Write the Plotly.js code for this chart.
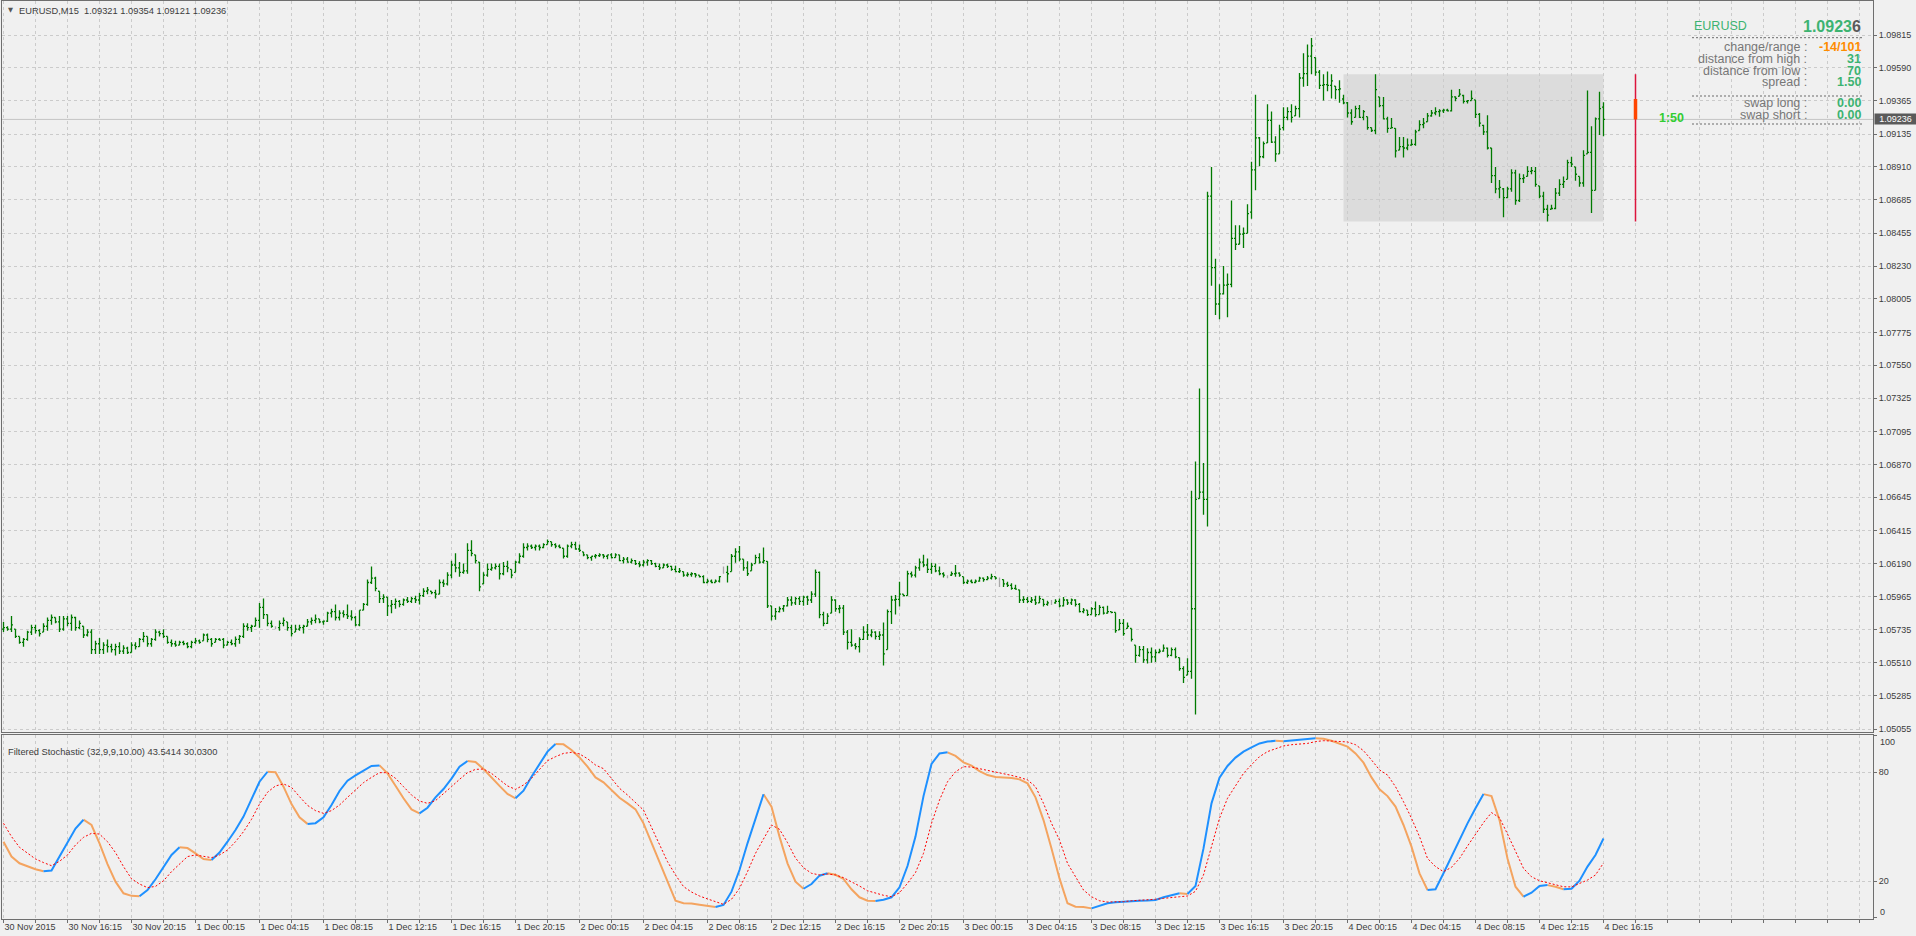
<!DOCTYPE html>
<html><head><meta charset="utf-8">
<script src="https://cdn.plot.ly/plotly-3.0.1.min.js"></script>
<style>html,body{margin:0;padding:0;background:#F0F0F0;overflow:hidden}#chart{width:1916px;height:936px}</style>
</head><body><div id="chart"></div>
<script>
// ---------------- DATA ----------------
const symbol = "EURUSD", timeframe = "M15";
const openP = [
1.0574,1.0575,1.0574,1.0574,1.0569,1.0565,1.0567,1.0572,1.0575,1.0573,
1.0572,1.0576,1.0580,1.0582,1.0579,1.0574,1.0581,1.0578,1.0582,1.0575,
1.0576,1.0570,1.0572,1.0560,1.0564,1.0560,1.0563,1.0562,1.0560,1.0562,
1.0559,1.0561,1.0558,1.0563,1.0562,1.0567,1.0569,1.0564,1.0567,1.0572,
1.0571,1.0569,1.0565,1.0564,1.0563,1.0565,1.0564,1.0562,1.0565,1.0566,
1.0566,1.0570,1.0567,1.0565,1.0567,1.0567,1.0563,1.0565,1.0564,1.0567,
1.0569,1.0576,1.0575,1.0576,1.0580,1.0589,1.0584,1.0578,1.0575,1.0575,
1.0578,1.0579,1.0575,1.0572,1.0574,1.0575,1.0576,1.0579,1.0580,1.0581,
1.0579,1.05795,1.0585,1.0586,1.0582,1.0585,1.0584,1.0583,1.0582,1.0577,
1.0587,1.0591,1.0606,1.0609,1.0600,1.0595,1.0596,1.0590,1.0591,1.0593,
1.0591,1.0594,1.0593,1.0595,1.0594,1.0597,1.0600,1.0600,1.0599,1.0598,
1.0606,1.0605,1.0611,1.0618,1.0616,1.0613,1.0614,1.0628,1.0625,1.0620,
1.0605,1.0611,1.0615,1.0616,1.0617,1.0612,1.0617,1.0615,1.0613,1.0620,
1.0624,1.0630,1.0631,1.0630,1.0631,1.0630,1.0632,1.0634,1.0632,1.0631,
1.06295,1.0624,1.0631,1.0632,1.0629,1.0627,1.0625,1.0623,1.0624,1.06245,
1.0625,1.0624,1.0625,1.0623,1.0625,1.0621,1.0622,1.0620,1.0621,1.0619,
1.0618,1.0620,1.0621,1.0619,1.0617,1.0616,1.0618,1.0617,1.0615,1.06135,
1.06135,1.0611,1.06115,1.0612,1.0611,1.0610,1.0606,1.0607,1.0606,1.0607,
1.0613,1.0613,1.06135,1.0624,1.0627,1.0622,1.0616,1.0614,1.0619,1.0623,
1.0620,1.06205,1.0590,1.0583,1.0586,1.0588,1.0590,1.0594,1.0592,1.0595,
1.0593,1.0596,1.0594,1.0598,1.0613,1.0584,1.0578,1.0585,1.0594,1.0588,
1.05885,1.0572,1.0565,1.0563,1.0562,1.0567,1.0572,1.0570,1.0572,1.0569,
1.0570,1.0560,1.0586,1.0594,1.05945,1.0598,1.0597,1.0612,1.0611,1.0616,
1.0620,1.0618,1.0615,1.0617,1.0614,1.0612,1.0610,1.0611,1.0612,1.06125,
1.0610,1.0606,1.0607,1.0606,1.0607,1.0609,1.0608,1.0609,1.0610,1.0608,
1.0608,1.0605,1.0604,1.0602,1.0601,1.0594,1.05945,1.0593,1.0594,1.0592,
1.05945,1.0591,1.0592,1.0592,1.0593,1.0590,1.0594,1.0592,1.0594,1.0591,
1.0586,1.0587,1.0584,1.0588,1.0584,1.0589,1.0585,1.0586,1.05855,1.05735,
1.0578,1.05745,1.05745,1.0563,1.0556,1.0560,1.0553,1.0558,1.0555,1.0558,
1.0559,1.0561,1.0556,1.0560,1.05545,1.0547,1.05425,1.0545,1.0588,1.06635,
1.0668,1.0663,1.0871,1.0822,1.0797,1.0804,1.0810,1.08105,1.0842,1.0838,
1.0845,1.08455,1.0860,1.0889,1.0911,1.0898,1.09075,1.0923,1.0908,1.0900,
1.0918,1.0925,1.0929,1.0926,1.0931,1.0952,1.0955,1.0967,1.0966,1.0956,
1.0947,1.09475,1.0947,1.09465,1.0944,1.09376,1.0935,1.0928,1.0925,1.0931,
1.0925,1.09255,1.0918,1.0916,1.0939,1.0933,1.0924,1.09175,1.09175,1.09025,
1.0905,1.0904,1.0906,1.09065,1.0916,1.0920,1.0922,1.0926,1.0928,1.0929,
1.09295,1.0930,1.09295,1.0939,1.09395,1.0940,1.0936,1.09365,1.0937,1.0927,
1.09195,1.0915,1.0904,1.0885,1.0876,1.0876,1.0870,1.0876,1.0887,1.0868,
1.0883,1.08845,1.0888,1.0888,1.0878,1.0871,1.0862,1.0862,1.08625,1.0873,
1.0879,1.08825,1.0894,1.0891,1.08845,1.0880,1.0900,1.0901,1.0875,1.0924,
1.09321];
const highP = [
1.0579,1.0576,1.0583,1.0574,1.0569,1.0568,1.0573,1.0577,1.0577,1.0574,
1.0578,1.0582,1.0584,1.0582,1.0583,1.0583,1.0583,1.0584,1.05825,1.0580,
1.0576,1.0574,1.0574,1.0566,1.0568,1.0565,1.0567,1.0564,1.0564,1.0565,
1.0563,1.0562,1.0565,1.0565,1.0568,1.0572,1.0569,1.0568,1.0574,1.0573,
1.0574,1.0569,1.0567,1.0566,1.0566,1.0566,1.0565,1.0566,1.0568,1.0567,
1.0571,1.0571,1.0568,1.0568,1.0568,1.0568,1.0566,1.0567,1.0569,1.0570,
1.0578,1.0578,1.0577,1.0582,1.0592,1.0595,1.0584,1.0580,1.0576,1.0580,
1.0582,1.0579,1.0577,1.0577,1.0577,1.0577,1.0581,1.0582,1.0584,1.0581,
1.0580,1.0586,1.0588,1.0591,1.0587,1.0587,1.0591,1.0587,1.0583,1.0587,
1.0592,1.0608,1.0617,1.0610,1.0600,1.0598,1.0596,1.0594,1.0595,1.0594,
1.0595,1.0596,1.0596,1.0597,1.0599,1.0602,1.0603,1.0600,1.0601,1.0608,
1.0608,1.0613,1.0621,1.0626,1.0620,1.0619,1.0633,1.0635,1.0625,1.0620,
1.0613,1.0619,1.0619,1.0619,1.0619,1.0620,1.0621,1.0615,1.0621,1.0626,
1.0633,1.0633,1.0632,1.0632,1.0632,1.0633,1.06355,1.0634,1.0633,1.0632,
1.06295,1.0632,1.0634,1.0634,1.0632,1.0627,1.0625,1.0624,1.06255,1.0626,
1.06255,1.0625,1.0626,1.0626,1.0625,1.06235,1.06235,1.06225,1.06215,1.06205,
1.06215,1.0622,1.06215,1.06195,1.0619,1.0619,1.0619,1.06175,1.06175,1.0616,
1.06135,1.0613,1.0613,1.06125,1.0611,1.0611,1.06085,1.0608,1.0608,1.06105,
1.0617,1.06175,1.06255,1.06295,1.0631,1.0622,1.06205,1.06195,1.0625,1.0626,
1.0630,1.06205,1.0590,1.05885,1.05895,1.05905,1.0596,1.05965,1.0596,1.05965,
1.0597,1.0597,1.0600,1.0615,1.06135,1.0586,1.0585,1.05965,1.05945,1.05905,
1.05905,1.05735,1.0574,1.05645,1.05685,1.0576,1.05775,1.0574,1.05725,1.05725,
1.05785,1.05875,1.0597,1.05975,1.06065,1.0598,1.0614,1.06135,1.06175,1.06225,
1.0625,1.06225,1.06195,1.0619,1.0617,1.0613,1.0611,1.06135,1.0618,1.0613,
1.0610,1.0608,1.0608,1.0608,1.0610,1.06095,1.06105,1.0612,1.0610,1.06095,
1.0608,1.06065,1.06055,1.06045,1.0601,1.05965,1.0596,1.0596,1.0597,1.0597,
1.05945,1.05935,1.0594,1.05945,1.0595,1.0596,1.05945,1.0595,1.05945,1.0592,
1.05885,1.0587,1.0589,1.0593,1.05905,1.05895,1.0590,1.0586,1.05855,1.0581,
1.0581,1.05785,1.05745,1.0563,1.05625,1.05625,1.0561,1.05615,1.0560,1.05605,
1.05635,1.05615,1.05615,1.05615,1.05545,1.05485,1.0554,1.0669,1.0689,1.0739,
1.0688,1.0874,1.0891,1.0828,1.08105,1.0823,1.0818,1.0868,1.0851,1.0851,
1.08495,1.08655,1.08945,1.09405,1.09115,1.09085,1.0934,1.0929,1.0912,1.0920,
1.0932,1.0932,1.0934,1.0933,1.09555,1.0969,1.0975,1.09795,1.0966,1.09575,
1.09545,1.09565,1.09545,1.09465,1.09505,1.09405,1.09355,1.09305,1.0933,1.09335,
1.0930,1.09255,1.0918,1.09546,1.0939,1.0939,1.09255,1.09245,1.09175,1.09115,
1.09115,1.09105,1.0910,1.09165,1.0923,1.09245,1.0928,1.0930,1.0932,1.09305,
1.0931,1.0931,1.0944,1.09395,1.09445,1.09405,1.0937,1.09435,1.0937,1.0928,
1.0920,1.09265,1.0904,1.0891,1.0882,1.08765,1.08775,1.08895,1.0889,1.08865,
1.0886,1.08915,1.0891,1.0891,1.0878,1.0874,1.0865,1.0865,1.08765,1.08825,
1.08845,1.0896,1.0898,1.0891,1.08845,1.09025,1.09435,1.0919,1.0925,1.09425,
1.09354];
const lowP = [
1.0572,1.0573,1.0572,1.0568,1.0564,1.0562,1.0566,1.0570,1.0571,1.0569,
1.0572,1.0573,1.0577,1.0578,1.0572,1.0573,1.0576,1.0573,1.0573,1.0574,
1.0568,1.0569,1.0557,1.0557,1.0557,1.0557,1.0558,1.0558,1.0556,1.0557,
1.0557,1.0557,1.0558,1.0560,1.0562,1.0565,1.0562,1.0562,1.0566,1.0569,
1.0568,1.0564,1.0562,1.0562,1.0563,1.0563,1.0561,1.0561,1.0564,1.0564,
1.0566,1.0565,1.0562,1.0565,1.0566,1.0561,1.0563,1.0563,1.0562,1.0564,
1.0568,1.0573,1.0572,1.0576,1.0575,1.0581,1.0576,1.0575,1.0574,1.0573,
1.0576,1.0573,1.0569,1.0572,1.0573,1.0571,1.0576,1.0577,1.0578,1.0578,
1.0577,1.0579,1.0582,1.0580,1.0580,1.0582,1.0581,1.0580,1.0576,1.0576,
1.0587,1.0590,1.0605,1.0600,1.0592,1.0592,1.0583,1.0585,1.0588,1.0589,
1.0590,1.0592,1.0592,1.0592,1.0591,1.0596,1.0598,1.0598,1.0595,1.0598,
1.0603,1.0604,1.0609,1.0613,1.0610,1.0612,1.0612,1.0624,1.0619,1.0600,
1.0605,1.0610,1.0614,1.0615,1.0608,1.0611,1.0613,1.0609,1.0613,1.0619,
1.0623,1.0628,1.0629,1.0628,1.0628,1.06295,1.0632,1.06305,1.06295,1.06295,
1.06225,1.0623,1.06295,1.06285,1.0627,1.0624,1.0622,1.0621,1.06225,1.06235,
1.06225,1.0622,1.06225,1.0623,1.06205,1.0619,1.06195,1.0619,1.0618,1.06165,
1.0617,1.06175,1.0618,1.06165,1.06145,1.0616,1.0616,1.0614,1.0613,1.06125,
1.0610,1.0610,1.0610,1.06095,1.06095,1.06055,1.06055,1.06055,1.0606,1.0606,
1.0612,1.0606,1.06135,1.06195,1.06205,1.0614,1.06105,1.0614,1.0619,1.0619,
1.0619,1.05885,1.0580,1.05805,1.05855,1.0586,1.05895,1.0590,1.05905,1.05905,
1.0590,1.05905,1.0592,1.0596,1.05815,1.0576,1.05775,1.0585,1.0586,1.0585,
1.0570,1.0560,1.0562,1.0560,1.0558,1.05665,1.05665,1.05685,1.0567,1.05665,
1.0549,1.0560,1.05775,1.0584,1.05895,1.05965,1.0597,1.06095,1.06095,1.0614,
1.06165,1.06125,1.0612,1.0613,1.0611,1.06095,1.0609,1.06105,1.0610,1.0610,
1.0605,1.0605,1.06055,1.06055,1.06065,1.06065,1.06075,1.0608,1.0608,1.0603,
1.0603,1.0603,1.0601,1.0601,1.0592,1.0592,1.0592,1.0592,1.05905,1.0592,
1.05895,1.0590,1.05905,1.05915,1.0589,1.05895,1.05905,1.05905,1.05895,1.05855,
1.0585,1.0583,1.0584,1.05825,1.0584,1.0584,1.05845,1.0585,1.05715,1.05735,
1.05695,1.05745,1.05655,1.0551,1.0555,1.0551,1.05505,1.0551,1.05515,1.05575,
1.05585,1.05545,1.05555,1.0554,1.05455,1.0537,1.05425,1.0540,1.05155,1.06635,
1.06525,1.06445,1.08095,1.07895,1.07865,1.08035,1.0788,1.08085,1.0834,1.0838,
1.08355,1.08455,1.08555,1.0875,1.08915,1.0897,1.09075,1.09075,1.08945,1.0900,
1.0916,1.0923,1.09215,1.0926,1.0925,1.0946,1.09465,1.09545,1.09535,1.09445,
1.09365,1.0943,1.0938,1.09375,1.0935,1.0934,1.0925,1.0920,1.0925,1.09245,
1.0923,1.09165,1.0915,1.09135,1.0932,1.09235,1.09145,1.09175,1.08975,1.09025,
1.08975,1.09025,1.09055,1.09055,1.0916,1.09175,1.0922,1.09255,1.09265,1.09255,
1.0928,1.0929,1.0929,1.0936,1.09395,1.09345,1.09345,1.09365,1.09245,1.09185,
1.0913,1.0903,1.0880,1.0873,1.08695,1.08565,1.08695,1.0874,1.0865,1.0867,
1.0880,1.08845,1.0886,1.08775,1.08695,1.08595,1.08536,1.0862,1.0862,1.0871,
1.08765,1.08825,1.0891,1.08815,1.08775,1.08775,1.0900,1.08595,1.0875,1.0913,
1.09121];
const closeP = [
1.0575,1.0574,1.0577,1.0569,1.0565,1.0567,1.0572,1.0575,1.0573,1.0571,
1.0576,1.0580,1.0582,1.0579,1.0574,1.0581,1.0578,1.0582,1.0575,1.0578,
1.0570,1.0572,1.0560,1.0564,1.0560,1.0563,1.0562,1.0560,1.0562,1.0559,
1.0561,1.0558,1.0563,1.0562,1.0567,1.0569,1.0564,1.0567,1.0572,1.0571,
1.0569,1.0565,1.0564,1.0563,1.0565,1.0564,1.0562,1.0565,1.0566,1.0565,
1.0570,1.0567,1.0564,1.0567,1.05665,1.0563,1.0565,1.0564,1.0567,1.0569,
1.0576,1.0575,1.0576,1.0580,1.0589,1.0584,1.0578,1.0576,1.0575,1.0578,
1.0580,1.0575,1.0571,1.0574,1.0575,1.0576,1.0579,1.0580,1.0581,1.0579,
1.05795,1.0585,1.0586,1.0582,1.0585,1.0584,1.0583,1.0582,1.0577,1.0587,
1.0591,1.0606,1.0609,1.0602,1.0595,1.0596,1.0590,1.0591,1.0593,1.0591,
1.0594,1.0593,1.0595,1.0594,1.0597,1.0600,1.0601,1.0599,1.0598,1.0606,
1.0605,1.0611,1.0618,1.0616,1.0613,1.0614,1.0628,1.0626,1.0621,1.0603,
1.0611,1.0615,1.0616,1.0617,1.0612,1.0617,1.0616,1.0611,1.0620,1.0624,
1.0630,1.0631,1.0630,1.0631,1.0630,1.0632,1.0634,1.0632,1.0631,1.0630,
1.0624,1.0631,1.0632,1.0629,1.0628,1.0625,1.0623,1.0624,1.06245,1.0625,
1.0624,1.0625,1.0623,1.0625,1.0621,1.0622,1.0620,1.0621,1.0619,1.0618,
1.0620,1.0621,1.0619,1.0617,1.0616,1.0618,1.0617,1.0615,1.06135,1.0614,
1.0611,1.06115,1.0612,1.0611,1.0610,1.0606,1.0607,1.0606,1.0607,1.0610,
1.0613,1.0612,1.0624,1.0627,1.0622,1.0616,1.0612,1.0618,1.0623,1.0620,
1.0621,1.0590,1.0583,1.0586,1.0588,1.0590,1.0594,1.0592,1.0595,1.0593,
1.0596,1.0594,1.0598,1.0613,1.0584,1.0578,1.0583,1.0594,1.0588,1.05885,
1.0572,1.0565,1.0563,1.0562,1.0567,1.0572,1.0570,1.0572,1.0569,1.0570,
1.0557,1.0586,1.0594,1.05945,1.0598,1.0597,1.0612,1.0611,1.0616,1.0620,
1.0618,1.0615,1.0617,1.0614,1.0612,1.0611,1.0610,1.0612,1.06125,1.0611,
1.0606,1.0607,1.0606,1.0607,1.0609,1.0608,1.0609,1.0610,1.0609,1.0608,
1.0605,1.0604,1.0602,1.06015,1.0594,1.05945,1.0593,1.0594,1.0592,1.0595,
1.0591,1.0592,1.0592,1.0593,1.0590,1.0594,1.0592,1.0594,1.0591,1.0586,
1.0587,1.0584,1.0588,1.0584,1.0589,1.0585,1.0586,1.05855,1.0573,1.0578,
1.0571,1.0576,1.0567,1.0556,1.0560,1.0553,1.0558,1.0555,1.0558,1.0559,
1.0561,1.0556,1.0560,1.0555,1.0547,1.0541,1.0545,1.0588,1.0663,1.0668,
1.0663,1.0871,1.0822,1.0797,1.0804,1.0810,1.08105,1.0842,1.0838,1.0845,
1.08455,1.0859,1.0889,1.0911,1.0898,1.0907,1.0923,1.0908,1.0900,1.0917,
1.0925,1.0929,1.0925,1.0931,1.0952,1.0955,1.0967,1.0974,1.0956,1.0947,
1.09475,1.0947,1.0950,1.0944,1.09445,1.0935,1.0928,1.0922,1.0931,1.0925,
1.0929,1.0918,1.0916,1.0944,1.0933,1.0924,1.09175,1.0918,1.0902,1.0905,
1.0904,1.0906,1.09065,1.0915,1.0920,1.0921,1.0926,1.0928,1.0929,1.09295,
1.0930,1.09295,1.0939,1.0938,1.0941,1.0936,1.09365,1.0938,1.0927,1.0921,
1.0915,1.0904,1.0885,1.0876,1.0877,1.0870,1.0876,1.0887,1.0868,1.0883,
1.08835,1.0888,1.08885,1.0879,1.0871,1.0862,1.0858,1.08625,1.0873,1.0879,
1.0881,1.0894,1.0893,1.0886,1.0880,1.0899,1.0901,1.0875,1.0924,1.0931,
1.09236];
const dayStart = 335;          // first bar of 4 Dec
const barsPerLabel = 16;
const xTickLabels = ["30 Nov 2015","30 Nov 16:15","30 Nov 20:15","1 Dec 00:15","1 Dec 04:15","1 Dec 08:15",
 "1 Dec 12:15","1 Dec 16:15","1 Dec 20:15","2 Dec 00:15","2 Dec 04:15","2 Dec 08:15","2 Dec 12:15",
 "2 Dec 16:15","2 Dec 20:15","3 Dec 00:15","3 Dec 04:15","3 Dec 08:15","3 Dec 12:15","3 Dec 16:15",
 "3 Dec 20:15","4 Dec 00:15","4 Dec 04:15","4 Dec 08:15","4 Dec 12:15","4 Dec 16:15"];
const priceTickLabels = ["1.09815","1.09590","1.09365","1.09135","1.08910","1.08685","1.08455","1.08230",
 "1.08005","1.07775","1.07550","1.07325","1.07095","1.06870","1.06645","1.06415","1.06190","1.05965",
 "1.05735","1.05510","1.05285","1.05055"];
const stochStep = 2;
const stochMain = [
41.8,33.6,29.9,28.1,26.6,25.5,25.9,33.6,41.3,49.0,
53.9,51.0,40.9,29.5,19.8,13.4,12.0,11.8,15.2,21.1,
27.7,34.5,38.7,38.3,35.4,32.3,31.7,35.8,41.8,48.2,
55.6,65.7,74.8,80.3,80.0,72.1,62.5,55.2,51.6,52.0,
55.2,62.0,69.7,75.4,78.3,80.7,83.5,83.8,79.4,72.6,
65.7,59.6,57.4,60.5,66.2,70.8,76.5,83.1,86.2,85.7,
81.8,76.9,72.5,68.1,65.7,69.9,77.6,84.6,91.4,95.6,
95.4,92.3,88.2,83.1,77.2,74.5,70.3,66.0,62.9,59.6,
51.9,41.3,30.3,19.8,9.3,7.9,7.8,7.1,6.4,5.9,
7.0,14.3,26.2,40.9,54.7,67.9,61.1,44.6,29.9,19.8,
15.9,18.5,23.1,24.4,23.6,21.3,15.6,11.2,9.3,9.2,
9.9,11.2,16.7,28.4,44.6,66.9,84.6,90.4,91.0,89.0,
85.5,83.7,80.7,78.5,77.4,77.2,76.9,76.1,73.9,66.2,
53.7,38.1,21.6,7.9,6.0,5.9,5.1,6.4,7.9,8.4,
8.8,9.2,9.3,9.4,9.7,11.2,12.5,13.4,13.0,17.4,
38.1,62.9,77.0,83.5,88.1,91.4,93.7,95.9,96.9,97.3,
97.1,97.6,98.0,98.2,98.7,98.5,97.4,95.9,94.1,90.4,
85.3,77.2,70.6,66.9,61.1,51.0,39.1,24.4,15.2,15.6,
24.4,33.6,43.3,51.9,60.2,68.0,66.9,53.7,32.6,17.0,
11.5,13.7,17.4,17.9,17.0,15.6,15.9,20.3,28.1,34.5,
43.5414];
const stochSignal = [
51.9,44.6,38.7,35.4,32.3,30.3,28.6,31.0,34.5,40.0,
44.2,46.4,46.0,41.8,35.8,28.1,21.4,18.5,16.5,17.2,
20.3,25.3,29.5,33.6,34.5,33.6,33.0,34.5,37.2,41.8,
47.3,54.1,62.5,69.0,72.5,73.6,71.7,66.6,61.8,58.9,
57.4,58.9,62.0,66.2,70.3,74.3,77.2,79.8,79.8,76.7,
72.1,67.5,64.2,62.9,64.4,68.1,72.1,76.1,79.8,81.6,
81.8,79.4,75.8,72.5,70.6,73.0,76.7,81.3,86.4,88.6,
90.4,91.0,90.1,87.5,84.0,82.0,76.7,71.2,67.5,63.3,
59.2,49.7,40.0,30.8,23.5,17.1,14.1,11.9,10.3,8.6,
7.3,10.1,16.1,25.3,35.4,43.3,51.0,48.6,41.3,32.8,
27.5,24.4,23.5,24.0,23.5,22.0,19.8,17.4,14.8,13.4,
12.3,11.5,13.7,18.9,24.8,35.4,51.9,64.7,74.8,80.3,
83.1,82.9,82.0,81.3,80.3,79.4,78.3,77.2,75.8,72.1,
62.9,51.9,42.7,29.9,22.2,15.2,11.5,9.3,8.6,8.6,
8.8,9.3,9.5,9.7,10.1,10.6,11.2,11.5,11.9,14.5,
23.5,39.1,54.7,65.7,72.8,79.4,84.2,88.6,91.4,93.0,
94.5,95.2,95.6,95.9,96.9,97.4,97.2,97.1,96.7,95.2,
91.9,86.8,81.3,78.5,72.1,63.8,54.7,44.6,32.6,28.1,
25.3,27.7,32.6,39.4,45.7,52.3,57.8,55.0,46.0,36.3,
27.1,22.5,20.3,19.2,17.9,17.0,16.9,18.9,20.7,23.5,
30.03];
const spreadText = "1.50", swapLong = "0.00", swapShort = "0.00", timerText = "1:50";

// ---------------- GEOMETRY / STYLE ----------------
const W = 1916, H = 936;
const px = x => x / W, py = y => (H - y) / H;
const PL = 2, PR = 1873, PT = 1, PB = 732, ST = 735, SB = 918.5;
const BARPX = 4, BAR0PX = 3.5;
const xRange = [(PL - BAR0PX) / BARPX, (PR - BAR0PX) / BARPX];
const kP = (1.09815 - 1.05055) / (729.05 - 35);
const yRange = [1.09815 - (PB - 35) * kP, 1.09815 + (35 - PT) * kP];
const kS = 60 / (881.3 - 772.3);
const y2Range = [20 - (SB - 881.3) * kS, 80 + (772.3 - ST) * kS];
const FONT = "'Liberation Sans', Arial, sans-serif";
const GRID = '#CBCBCB', AXIS = '#6E6E6E', TXT = '#3C3C3C', GREEN = '#3CB371';

// ---------------- DERIVED ----------------
const n = closeP.length, last = n - 1;
const idx = closeP.map((_, i) => i);
const isDoji = i => openP[i] === closeP[i];
const normI = idx.filter(i => !isDoji(i)), dojiI = idx.filter(isDoji);
const pick = (arr, ids) => ids.map(i => arr[i]);
const dayOpen = openP[dayStart];
const dayHigh = Math.max(...highP.slice(dayStart));
const dayLow = Math.min(...lowP.slice(dayStart));
const lastC = closeP[last];
const pip = v => Math.round(v / 0.0001);

let minGap = Infinity;
for (let k = 1; k < dojiI.length; k++) minGap = Math.min(minGap, dojiI[k] - dojiI[k - 1]);
if (!isFinite(minGap)) minGap = 1;

const BARLW = 1.3;
const traces = [];
traces.push({type:'ohlc', x: normI, open: pick(openP, normI), high: pick(highP, normI), low: pick(lowP, normI), close: pick(closeP, normI),
  increasing:{line:{color:'#007A00', width:BARLW}}, decreasing:{line:{color:'#007A00', width:BARLW}}, tickwidth:0.38,
  xaxis:'x', yaxis:'y', hoverinfo:'skip', showlegend:false});
if (dojiI.length) traces.push({type:'ohlc', x: dojiI, open: pick(openP, dojiI), high: pick(highP, dojiI), low: pick(lowP, dojiI), close: pick(closeP, dojiI),
  increasing:{line:{color:'#A8A8A8', width:BARLW}}, decreasing:{line:{color:'#A8A8A8', width:BARLW}}, tickwidth: Math.min(0.5, 0.38 / minGap),
  xaxis:'x', yaxis:'y', hoverinfo:'skip', showlegend:false});

// stochastic main line, coloured by direction
const sx = stochMain.map((_, k) => k * stochStep);
function segs(up) {
  const xs = [], ys = [];
  for (let k = 1; k < stochMain.length; k++) {
    const rising = stochMain[k] > stochMain[k - 1];
    if (rising !== up) continue;
    if (xs.length && xs[xs.length - 1] === sx[k - 1]) { xs.push(sx[k]); ys.push(stochMain[k]); }
    else { if (xs.length) { xs.push(null); ys.push(null); } xs.push(sx[k - 1], sx[k]); ys.push(stochMain[k - 1], stochMain[k]); }
  }
  return {xs, ys};
}
const dn = segs(false), upS = segs(true);
traces.push({type:'scatter', mode:'lines', x: dn.xs, y: dn.ys, line:{color:'#F4A460', width:2}, connectgaps:false, xaxis:'x2', yaxis:'y2', hoverinfo:'skip', showlegend:false});
traces.push({type:'scatter', mode:'lines', x: upS.xs, y: upS.ys, line:{color:'#1E90FF', width:2}, connectgaps:false, xaxis:'x2', yaxis:'y2', hoverinfo:'skip', showlegend:false});
traces.push({type:'scatter', mode:'lines', x: sx, y: stochSignal, line:{color:'#FF0000', width:1, dash:'2px,2px'}, xaxis:'x2', yaxis:'y2', hoverinfo:'skip', showlegend:false});

// ---------------- AXES ----------------
const xTickVals = [], xTickText = [];
for (let v = 0; v <= xRange[1]; v += barsPerLabel / 2) {
  xTickVals.push(v);
  const li = v / barsPerLabel;
  xTickText.push(Number.isInteger(li) && li < xTickLabels.length ? xTickLabels[li] : '');
}
const gridCommon = {showgrid:true, gridcolor:GRID, griddash:'3px,3px', gridwidth:1, zeroline:false,
  showline:true, mirror:true, linecolor:AXIS, linewidth:1, fixedrange:true, automargin:false};

const layout = {
  width: W, height: H, margin:{l:0, r:0, t:0, b:0}, paper_bgcolor:'#F0F0F0', plot_bgcolor:'#F0F0F0',
  showlegend:false, hovermode:false,
  xaxis: Object.assign({}, gridCommon, {domain:[px(PL), px(PR)], range:xRange, anchor:'y', tickmode:'array', tickvals:xTickVals,
    showticklabels:false, ticks:'', rangeslider:{visible:false}}),
  yaxis: Object.assign({}, gridCommon, {domain:[py(PB), py(PT)], range:yRange, anchor:'x', side:'right', tickmode:'array',
    tickvals: priceTickLabels.map(Number), ticktext: priceTickLabels, ticks:'outside', ticklen:3, tickcolor:AXIS,
    tickfont:{family:FONT, size:9, color:TXT}}),
  xaxis2: Object.assign({}, gridCommon, {domain:[px(PL), px(PR)], range:xRange, anchor:'y2', tickmode:'array', tickvals:xTickVals,
    ticktext:xTickText, ticks:'outside', ticklen:3, tickcolor:AXIS, ticklabelposition:'outside right',
    tickfont:{family:FONT, size:9, color:TXT}}),
  yaxis2: Object.assign({}, gridCommon, {domain:[py(SB), py(ST)], range:y2Range, anchor:'x2', side:'right', tickmode:'array',
    tickvals:[0, 20, 80, 100], ticktext:['', '20', '80', ''], ticks:'outside', ticklen:3, tickcolor:AXIS,
    tickfont:{family:FONT, size:9, color:TXT}}),
  shapes: [], annotations: []
};

// day range box, bid line, daily candle
layout.shapes.push({type:'rect', xref:'x', yref:'y', x0: dayStart, x1: last, y0: dayLow, y1: dayHigh, fillcolor:'#DCDCDC', line:{width:0}, layer:'below'});
layout.shapes.push({type:'line', xref:'paper', yref:'y', x0: px(PL), x1: px(PR), y0: lastC, y1: lastC, line:{color:'#C4C4C4', width:1}, layer:'between'});
const candX = last + 8;
layout.shapes.push({type:'line', xref:'x', yref:'y', x0: candX, x1: candX, y0: dayLow, y1: dayHigh, line:{color:'#DC143C', width:1.5}});
layout.shapes.push({type:'line', xref:'x', yref:'y', x0: candX, x1: candX, y0: dayOpen, y1: lastC, line:{color:'#FF4500', width:3.5}});
// info panel separators
[37.7, 96, 124].forEach(y => layout.shapes.push({type:'line', xref:'paper', yref:'paper', x0: px(1692), x1: px(1863), y0: py(y), y1: py(y),
  line:{color:'#6A6A6A', width:1, dash:'2px,2px'}}));

// ---------------- TEXT ----------------
function T(text, x, y, o) {
  return Object.assign({text, xref:'paper', yref:'paper', x: px(x), y: py(y), showarrow:false, xanchor:'left', yanchor:'middle',
    font:{family:FONT, size:9.3, color:TXT}}, o || {});
}
const A = layout.annotations;
A.push(T('\u25BC', 6, 10.5, {font:{family:"'DejaVu Sans', sans-serif", size:6.5, color:'#555'}}));
A.push(T(`${symbol},${timeframe}\u00a0\u00a0${openP[last].toFixed(5)} ${highP[last].toFixed(5)} ${lowP[last].toFixed(5)} ${lastC.toFixed(5)}`, 17, 11));
A.push(T(`Filtered Stochastic (32,9,9,10.00) ${stochMain[stochMain.length-1].toFixed(4)} ${stochSignal[stochSignal.length-1].toFixed(4)}`, 6, 751.5));
A.push(T('100', 1878, 741.5, {font:{family:FONT, size:9, color:TXT}}));
A.push(T('0', 1878, 911.5, {font:{family:FONT, size:9, color:TXT}}));
// current price tag
A.push({text: lastC.toFixed(5), xref:'paper', yref:'y', x: px(1874), y: lastC, xanchor:'left', yanchor:'middle', showarrow:false,
  bgcolor:'#5A5A5A', borderpad:0, width:41, height:10, align:'center', font:{family:FONT, size:9, color:'#FFFFFF'}});
// info panel
const ps = lastC.toFixed(5);
A.push(T(symbol, 1692, 26, {font:{family:FONT, size:12.5, color:GREEN}}));
A.push(T(`<b>${ps.slice(0, -1)}<span style="color:#5A5A5A">${ps.slice(-1)}</span></b>`, 1862.5, 26.5, {xanchor:'right', font:{family:FONT, size:16, color:GREEN}}));
const rows = [
  ['change/range', `${pip(lastC - dayOpen)}/${pip(dayHigh - dayLow)}`, '#FF8C00', 46.7],
  ['distance from high', `${pip(dayHigh - lastC)}`, GREEN, 58.7],
  ['distance from low', `${pip(lastC - dayLow)}`, GREEN, 70.7],
  ['spread', spreadText, GREEN, 82.2],
  ['swap long', swapLong, GREEN, 103.3],
  ['swap short', swapShort, GREEN, 114.7]
];
rows.forEach(([lab, val, col, y]) => {
  A.push(T(lab + ' :', 1809, y, {xanchor:'right', font:{family:FONT, size:12.5, color:'#777777'}}));
  A.push(T(`<b>${val}</b>`, 1863, y, {xanchor:'right', font:{family:FONT, size:12.5, color:col}}));
});
A.push(T(`<b>${timerText}</b>`, 1657, 117.5, {font:{family:FONT, size:12.5, color:'#32CD32'}}));

Plotly.newPlot('chart', traces, layout, {staticPlot:true, displayModeBar:false});
</script>
</body></html>
